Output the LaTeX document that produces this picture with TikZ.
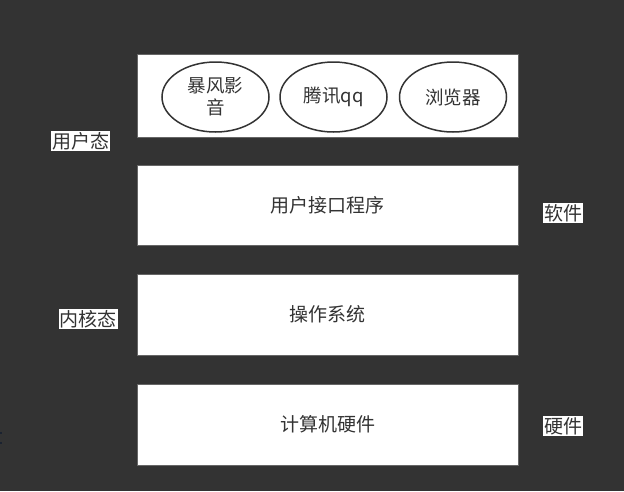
\documentclass[tikz,border=0pt]{standalone}
\usepackage{fontspec}
\setmainfont{Noto Sans CJK SC}
\usetikzlibrary{shapes.geometric}
\definecolor{bgc}{HTML}{333333}
\definecolor{txt}{HTML}{333333}
\definecolor{edge}{HTML}{666666}
\definecolor{dotc}{HTML}{1A2230}
\tikzset{
  layer/.style={draw=edge, line width=1pt, fill=white, minimum width=381pt, inner sep=0pt, text=txt, font=\fontsize{19}{21}\selectfont},
  app/.style={ellipse, draw=black!80, line width=1.5pt, fill=white, minimum width=107pt, minimum height=70pt, inner sep=0pt, text=txt, align=center, font=\fontsize{18.5}{22}\selectfont},
  tag/.style={fill=white, inner sep=1pt, text=txt, font=\fontsize{19}{20}\selectfont},
}
\begin{document}
\begin{tikzpicture}[x=1pt,y=-1pt]
\fill[bgc] (0,0) rectangle (624,491);
\useasboundingbox (0,0) rectangle (624,491);
\node[layer, minimum height=83pt] (user) at (327.5,95.5) {};
\node[app] (bf) at (215.5,97) {暴风影\\音};
\node[app] (qq) at (333.5,97) {腾讯qq};
\node[app] (br) at (453,97) {浏览器};
\node[layer, minimum height=80pt] (ui) at (327.5,205) {用户接口程序};
\node[layer, minimum height=81pt] (os) at (327.5,314.5) {操作系统};
\node[layer, minimum height=81pt] (hw) at (327.5,424.5) {计算机硬件};
\node[tag] (yhs) at (80.5,141) {用户态};
\node[tag] (nhs) at (88,319) {内核态};
\node[tag] (rj) at (563,213) {软件};
\node[tag] (yj) at (563,426) {硬件};
\fill[dotc] (0,432) rectangle (2,434);
\fill[dotc] (0,442) rectangle (2,444);
\end{tikzpicture}
\end{document}
